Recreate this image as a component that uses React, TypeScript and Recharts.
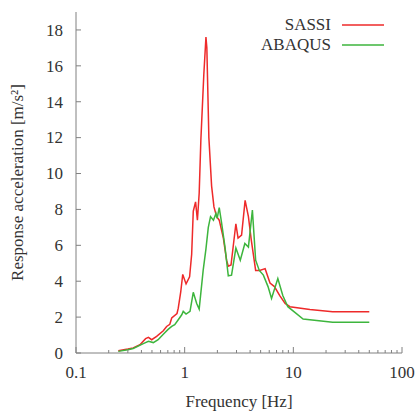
import React from 'react';
import { LineChart, Line, XAxis, YAxis, Legend } from 'recharts';

const sassiFreq = [0.245, 0.3, 0.336, 0.388, 0.437, 0.464, 0.497, 0.552, 0.636, 0.682, 0.73, 0.76, 0.85, 0.873, 0.92, 0.96, 1.03, 1.11, 1.16, 1.2, 1.26, 1.31, 1.36, 1.41, 1.5, 1.57, 1.6, 1.67, 1.77, 1.86, 1.97, 2.08, 2.27, 2.43, 2.52, 2.67, 2.96, 3.1, 3.34, 3.6, 3.86, 4.1, 4.5, 4.9, 5.5, 6.1, 6.7, 7.5, 8.4, 9.3, 14.2, 23, 50];
const sassiAccel = [0.13, 0.22, 0.28, 0.46, 0.8, 0.87, 0.74, 0.93, 1.24, 1.48, 1.6, 1.95, 2.2, 2.5, 3.4, 4.38, 3.85, 4.25, 5.5, 7.9, 8.42, 7.4, 8.9, 11.9, 15.5, 17.6, 17.0, 12.0, 9.3, 8.14, 7.6, 7.4, 6.4, 5.17, 4.84, 4.9, 7.2, 6.4, 6.57, 8.5, 7.6, 6.3, 4.6, 4.6, 4.7, 3.9, 3.7, 3.2, 2.76, 2.58, 2.43, 2.3, 2.3];

const abaqusFreq = [0.245, 0.3, 0.336, 0.416, 0.464, 0.515, 0.57, 0.636, 0.7, 0.76, 0.81, 0.86, 0.94, 0.97, 1.03, 1.12, 1.2, 1.29, 1.36, 1.48, 1.57, 1.65, 1.73, 1.84, 1.94, 1.99, 2.08, 2.18, 2.35, 2.52, 2.7, 2.96, 3.25, 3.58, 3.86, 4.2, 4.5, 4.86, 5.3, 5.85, 6.3, 7.2, 8.0, 8.9, 12.3, 23, 50];
const abaqusAccel = [0.09, 0.18, 0.25, 0.52, 0.65, 0.58, 0.74, 1.05, 1.3, 1.48, 1.58, 1.8, 2.13, 2.32, 2.17, 2.32, 3.38, 2.76, 2.45, 4.6, 5.8, 7.0, 7.6, 7.4, 7.77, 7.5, 8.1, 7.3, 5.9, 4.3, 4.34, 5.85, 5.17, 6.1, 5.9, 7.96, 5.17, 4.6, 4.34, 3.7, 3.04, 4.15, 3.2, 2.58, 1.89, 1.71, 1.71];

const xMajorTicks = [0.1, 1, 10, 100];
const xMinorTicks = [0.2, 0.3, 0.4, 0.5, 0.6, 0.7, 0.8, 0.9, 2, 3, 4, 5, 6, 7, 8, 9, 20, 30, 40, 50, 60, 70, 80, 90];
const yTicks = [0, 2, 4, 6, 8, 10, 12, 14, 16, 18];
const seriesNames = ['SASSI', 'ABAQUS'];

const sassiData = sassiFreq.map((f, i) => ({ f, v: sassiAccel[i] }));
const abaqusData = abaqusFreq.map((f, i) => ({ f, v: abaqusAccel[i] }));
const allXTicks = [...xMajorTicks, ...xMinorTicks].sort((a, b) => a - b);

const FONT = 'Liberation Serif, Times New Roman, DejaVu Serif, serif';
const FRAME = '#808080';
const TEXT = '#333333';
const RED = '#ee2a2a';
const GREEN = '#3db53d';
const seriesColors = [RED, GREEN];

const BottomTick = (p: any) => {
  const v = p.payload.value;
  const major = xMajorTicks.includes(v);
  return (
    <g>
      <line x1={p.x} x2={p.x} y1={p.y} y2={p.y - (major ? 6 : 3)} stroke={FRAME} />
      {major && (
        <text x={p.x} y={p.y + 25} textAnchor="middle" fontFamily={FONT} style={{ fontFamily: FONT }} fontSize={17} fill={TEXT}>
          {String(v)}
        </text>
      )}
    </g>
  );
};

const TopTick = (p: any) => {
  const v = p.payload.value;
  const major = xMajorTicks.includes(v);
  return <line x1={p.x} x2={p.x} y1={p.y} y2={p.y + (major ? 6 : 3)} stroke={FRAME} />;
};

const LeftTick = (p: any) => (
  <g>
    <line x1={p.x} x2={p.x + 5} y1={p.y} y2={p.y} stroke={FRAME} />
    <text x={p.x - 13} y={p.y} dy="0.34em" textAnchor="end" fontFamily={FONT} style={{ fontFamily: FONT }} fontSize={17} fill={TEXT}>
      {String(p.payload.value)}
    </text>
  </g>
);

const RightTick = (p: any) => <line x1={p.x} x2={p.x - 5} y1={p.y} y2={p.y} stroke={FRAME} />;

const renderLegend = () => (
  <div style={{ fontFamily: FONT, fontSize: 17, color: TEXT }}>
    {seriesNames.map((name, i) => (
      <div key={name} style={{ display: 'flex', alignItems: 'center', justifyContent: 'flex-end', height: 20, lineHeight: '20px' }}>
        <span>{name}</span>
        <svg width={53} height={20} style={{ display: 'block' }}>
          <line x1={11} x2={53} y1={10} y2={10} stroke={seriesColors[i]} strokeWidth={1.5} />
        </svg>
      </div>
    ))}
  </div>
);

export default function App() {
  return (
    <div style={{ position: 'absolute', left: 0, top: 0, width: 416, height: 415, overflow: 'hidden', fontFamily: FONT }}>
      <LineChart width={416} height={415} margin={{ top: 12, right: 14, bottom: 0, left: 0 }}>
        <XAxis
          xAxisId="b"
          dataKey="f"
          type="number"
          scale="log"
          domain={[0.1, 100]}
          allowDataOverflow
          ticks={allXTicks}
          interval={0}
          tickSize={0}
          tickMargin={0}
          tickLine={false}
          axisLine={{ stroke: FRAME }}
          height={62}
          tick={BottomTick}
          label={{ value: 'Frequency [Hz]', position: 'insideBottom', offset: 8, fontSize: 17, fill: TEXT, style: { fontFamily: FONT } }}
        />
        <XAxis
          xAxisId="t"
          orientation="top"
          dataKey="f"
          type="number"
          scale="log"
          domain={[0.1, 100]}
          allowDataOverflow
          ticks={allXTicks}
          interval={0}
          tickSize={0}
          tickMargin={0}
          tickLine={false}
          axisLine={{ stroke: FRAME }}
          height={0}
          tick={TopTick}
        />
        <YAxis
          yAxisId="l"
          type="number"
          domain={[0, 19]}
          allowDataOverflow
          ticks={yTicks}
          interval={0}
          tickSize={0}
          tickMargin={0}
          tickLine={false}
          axisLine={{ stroke: FRAME }}
          width={76}
          tick={LeftTick}
          label={{ value: 'Response acceleration [m/s²]', angle: -90, position: 'insideLeft', offset: 17, fontSize: 17, fill: TEXT, style: { textAnchor: 'middle', fontFamily: FONT } }}
        />
        <YAxis
          yAxisId="r"
          orientation="right"
          type="number"
          domain={[0, 19]}
          allowDataOverflow
          ticks={yTicks}
          interval={0}
          tickSize={0}
          tickMargin={0}
          tickLine={false}
          axisLine={{ stroke: FRAME }}
          width={0}
          tick={RightTick}
        />
        <Legend
          layout="vertical"
          align="center"
          verticalAlign="middle"
          content={renderLegend}
          wrapperStyle={{ position: 'absolute', top: 15, left: 208, width: 176 }}
        />
        <Line xAxisId="b" yAxisId="l" data={sassiData} dataKey="v" name="SASSI" type="linear" stroke={RED} strokeWidth={1.5} dot={false} isAnimationActive={false} />
        <Line xAxisId="b" yAxisId="l" data={abaqusData} dataKey="v" name="ABAQUS" type="linear" stroke={GREEN} strokeWidth={1.5} dot={false} isAnimationActive={false} />
      </LineChart>
    </div>
  );
}
